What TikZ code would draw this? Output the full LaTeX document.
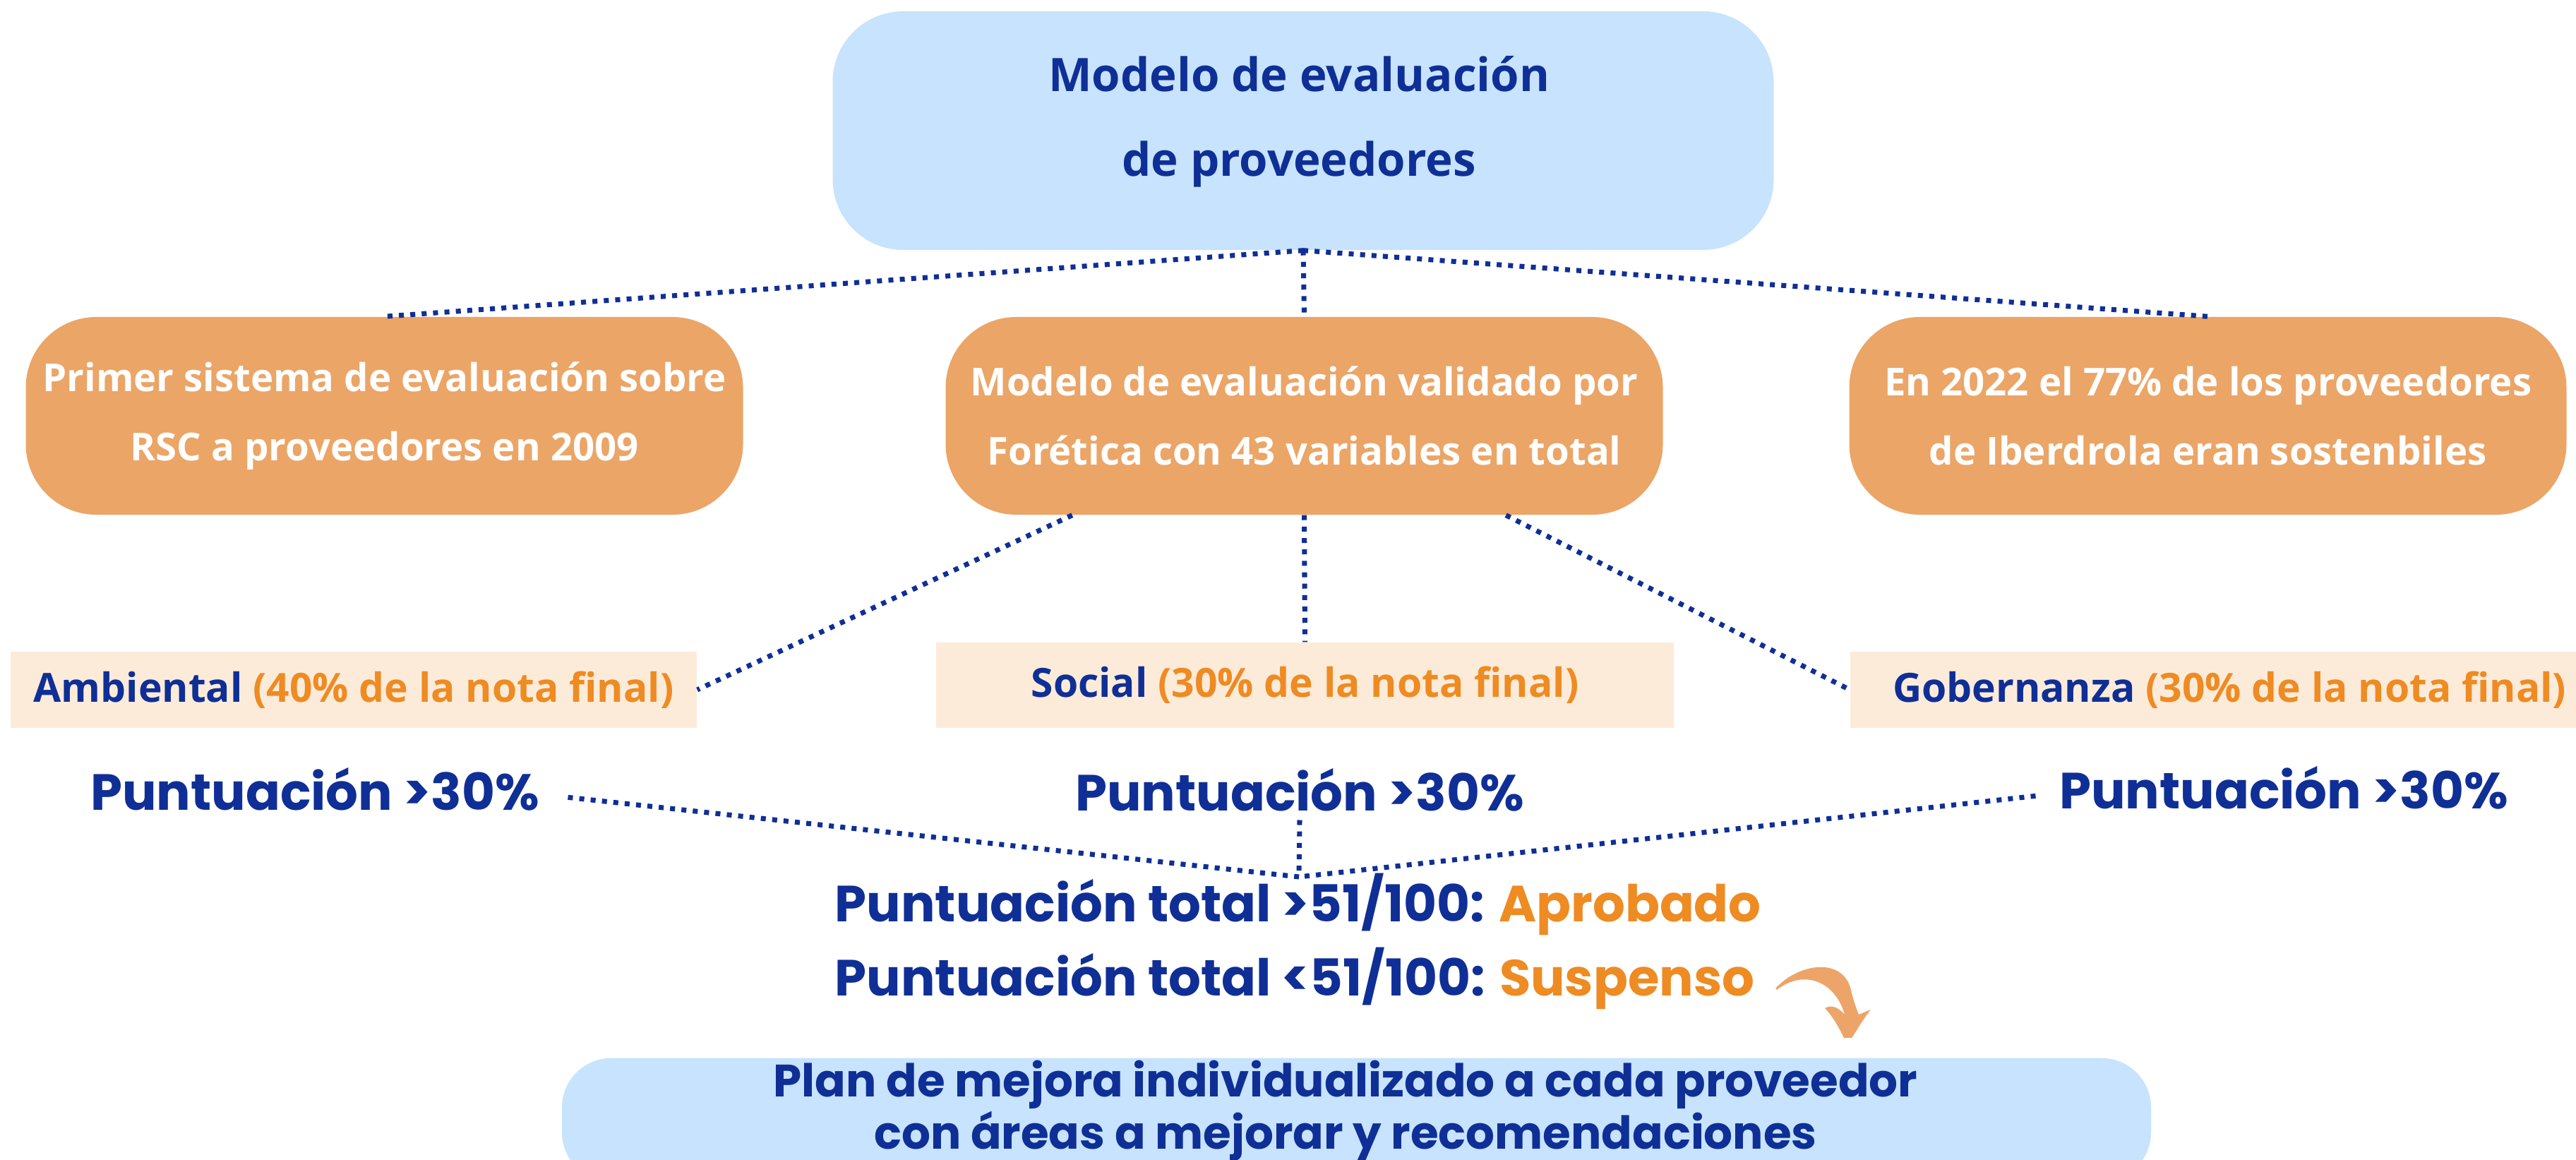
\documentclass[tikz,border=0pt]{standalone}
\usepackage{fontspec}
\newfontfamily\opensans{Open Sans}
\newfontfamily\poppins{Poppins}
\usetikzlibrary{positioning}
\definecolor{azulosc}{HTML}{0F2F96}
\definecolor{naranja}{HTML}{EE8B22}
\definecolor{naranjacaja}{HTML}{EBA567}
\definecolor{celeste}{HTML}{C7E3FD}
\definecolor{melocoton}{HTML}{FDEBDA}
\definecolor{flechacol}{HTML}{EDA468}
\tikzset{
  cajaazul/.style={fill=celeste, rounded corners=1cm, inner sep=0pt},
  cajanaranja/.style={fill=naranjacaja, rounded corners=1cm, inner sep=0pt, align=center, text=white,
    minimum width=10.16cm, minimum height=2.8cm, font=\opensans\bfseries\fontsize{15.5}{27.9}\selectfont},
  cajanota/.style={fill=melocoton, inner sep=0pt, text=azulosc,
    font=\opensans\bfseries\fontsize{16.2}{20}\selectfont},
  puntua/.style={inner sep=0pt, anchor=base, text=azulosc, font=\poppins\bfseries\fontsize{20.5}{24}\selectfont},
  punteada/.style={azulosc, line width=2pt, dash pattern=on 2pt off 2.6pt}
}
\begin{document}
\begin{tikzpicture}
\useasboundingbox (0,0) rectangle (36.49,-16.43);
\clip (0,0) rectangle (36.49,-16.43);
\fill[white] (0,0) rectangle (36.49,-16.43);

% caja principal
\node[cajaazul, minimum width=13.33cm, minimum height=3.38cm] (modelo) at (18.46,-1.85) {};
\node[inner sep=0pt, anchor=base, align=center, text=azulosc,
  font=\opensans\bfseries\fontsize{18.6}{34.4}\selectfont] (modelotxt) at (18.40,-2.50) {Modelo de evaluación\\de proveedores};

% tres cajas naranjas
\node[cajanaranja] (primer) at (5.445,-5.89) {Primer sistema de evaluación sobre\\RSC a proveedores en 2009};
\node[cajanaranja] (foretica) at (18.475,-5.89) {Modelo de evaluación validado por\\Forética con 43 variables en total};
\node[cajanaranja] (iberdrola) at (31.275,-5.89) {En 2022 el 77\% de los proveedores\\de Iberdrola eran sostenbiles};

\draw[punteada] (modelo.south) -- (primer.north);
\draw[punteada] (modelo.south) -- (foretica.north);
\draw[punteada] (modelo.south) -- (iberdrola.north);

% notas
\node[cajanota, minimum width=9.72cm, minimum height=1.08cm] (ambiental) at (5.01,-9.77) {Ambiental {\color{naranja}(40\% de la nota final)}};
\node[cajanota, minimum width=10.45cm, minimum height=1.21cm] (social) at (18.485,-9.705) {Social {\color{naranja}(30\% de la nota final)}};
\node[cajanota, minimum width=10.74cm, minimum height=1.08cm] (gobernanza) at (31.58,-9.77) {Gobernanza {\color{naranja}(30\% de la nota final)}};

\draw[punteada] ([xshift=1.8cm]foretica.south west) -- (ambiental.east);
\draw[punteada] (foretica.south) -- (social.north);
\draw[punteada] ([xshift=-2.23cm]foretica.south east) -- (gobernanza.west);

% puntuaciones
\node[puntua] (p1) at (4.46,-11.47) {Puntuación >30\%};
\node[puntua] (p2) at (18.41,-11.48) {Puntuación >30\%};
\node[puntua] (p3) at (32.35,-11.45) {Puntuación >30\%};
\coordinate (cruce) at (18.40,-12.42);

\draw[punteada] ([xshift=0.4cm,yshift=-0.12cm]p1.east) -- (cruce);
\draw[punteada] ([xshift=-0.33cm,yshift=-0.12cm]p3.west) -- (cruce);
\draw[punteada] ([yshift=-0.12cm]p2.south) -- (cruce);

\node[puntua, anchor=base west] (aprobado) at (11.82,-13.05) {Puntuación total >51/100: {\color{naranja}Aprobado}};
\node[puntua, anchor=base west] (suspenso) at (11.82,-14.10) {Puntuación total <51/100: {\color{naranja}Suspenso}};

% flecha curva
\fill[flechacol] (25.15,-14.00) .. controls (25.50,-13.62) and (26.15,-13.55) .. (26.23,-14.07)
  .. controls (26.28,-14.25) and (26.32,-14.35) .. (26.33,-14.37) -- (26.50,-14.30)
  .. controls (26.38,-14.45) and (26.30,-14.60) .. (26.23,-14.70) -- (26.12,-14.70)
  .. controls (26.05,-14.55) and (25.95,-14.38) .. (25.85,-14.28)
  .. controls (25.95,-14.22) and (26.05,-14.28) .. (26.13,-14.37)
  .. controls (26.00,-13.90) and (25.55,-13.72) .. (25.17,-14.02) -- cycle;

% plan de mejora
\node[fill=celeste, rounded corners=0.7cm, minimum width=22.51cm, minimum height=1.75cm, anchor=north] (plan) at (19.215,-14.98) {};
\node[inner sep=0pt, align=center, text=azulosc, font=\poppins\bfseries\fontsize{18.3}{19.6}\selectfont, anchor=base] (plantxt) at (19.06,-16.27) {Plan de mejora individualizado a cada proveedor\\con áreas a mejorar y recomendaciones};
\end{tikzpicture}
\end{document}
